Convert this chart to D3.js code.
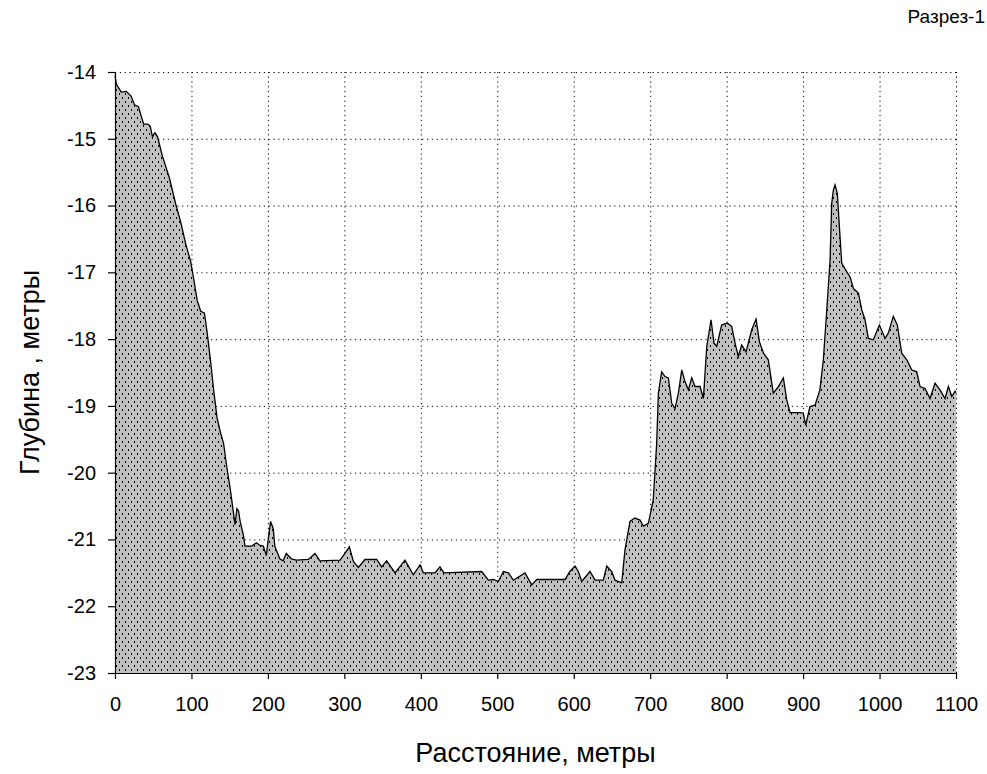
<!DOCTYPE html>
<html>
<head>
<meta charset="utf-8">
<script src="https://cdn.jsdelivr.net/npm/d3@7"></script>
<style>
  body { margin: 0; background: #fff; }
  svg text { font-family: "Liberation Sans", Arial, sans-serif; fill: #000; }
  .grid line { stroke: #000; stroke-dasharray: 1.2,3.6; }
  .grid .domain { display: none; }
  .axis path, .axis line { stroke: #000; stroke-width: 1.2; }
</style>
</head>
<body>
<svg></svg>
<script>
// profile distances, metres
var distance = [0, 1.7, 8.2, 14.7, 21, 25.5, 30.7, 34, 37.6, 42.8, 46, 49, 52, 55.7, 62, 71, 79.5, 86, 92.4, 99,
  103, 107.5, 112, 117, 120.5, 125, 129, 133.5, 138, 142, 146.4, 150.8, 154, 157, 159.4, 161.5, 163.7, 168, 170,
  179, 185, 189.6, 194, 198, 200.4, 203.5, 207, 209, 215.5, 220, 224, 230.7, 237,
  252.9, 261.6, 268, 294.3, 300.8, 306.5, 311.8, 318.3, 327, 342.3, 348.8, 355.3, 366.3, 379.3, 390.2, 399, 403.3,
  418.6, 425, 430.3, 479.6, 488.3, 494.9, 501.4, 508, 514.5, 521, 536.3, 545, 551.6, 562.5, 588.6, 595, 601.7,
  606, 610.4, 621.3, 627.9, 638.7, 643.2, 649.7, 654, 662.8, 667, 673.6, 680, 686.7, 691, 697.6, 704, 708.5,
  710.7, 715, 719.4, 723.8, 728.2, 732.5, 736.9, 741.3, 745.6, 750, 754.3, 758.7, 765.2, 769.6, 774, 779.6,
  783.5, 787, 793.5, 800.9, 806.6, 811, 815.3, 819.7, 825.4, 832.8, 838.5, 842.9, 848.2, 854.5, 861, 867.7,
  874.2, 878.6, 883, 896, 900.3, 903.4, 909, 915.6, 922, 926.5, 931, 935.3, 937.4, 939.6, 941.8, 944.8, 947.5,
  950.5, 957, 961.4, 965.8, 972.3, 976.7, 981, 985.4, 991.9, 999.8, 1007.2, 1011.5, 1018, 1023.3, 1029, 1035.6,
  1042, 1048.6, 1053, 1059.5, 1066, 1072.6, 1079, 1085.7, 1090, 1094.5, 1098.8, 1100];

// depth, metres
var depth = [-14.05, -14.18, -14.3, -14.29, -14.36, -14.49, -14.52, -14.65, -14.78, -14.78, -14.81, -14.97, -14.91, -14.97, -15.26, -15.58, -15.98, -16.25, -16.57, -16.84,
  -17.1, -17.42, -17.58, -17.61, -17.9, -18.33, -18.76, -19.18, -19.4, -19.56, -19.93, -20.25, -20.52, -20.78, -20.54, -20.57, -20.73, -20.94, -21.1,
  -21.1, -21.05, -21.09, -21.1, -21.24, -21.0, -20.73, -20.84, -21.1, -21.29, -21.32, -21.21, -21.29, -21.31,
  -21.3, -21.21, -21.32, -21.31, -21.21, -21.11, -21.33, -21.42, -21.3, -21.3, -21.41, -21.32, -21.5, -21.31, -21.53, -21.38, -21.5,
  -21.5, -21.41, -21.5, -21.48, -21.61, -21.6, -21.63, -21.48, -21.5, -21.61, -21.5, -21.68, -21.6, -21.6, -21.6, -21.48, -21.4,
  -21.48, -21.63, -21.48, -21.61, -21.61, -21.4, -21.48, -21.61, -21.65, -21.16, -20.73, -20.68, -20.71, -20.8, -20.76, -20.41, -19.56,
  -18.81, -18.49, -18.56, -18.58, -18.96, -19.04, -18.81, -18.46, -18.64, -18.76, -18.58, -18.71, -18.71, -18.89, -18.11, -17.71,
  -18.06, -18.11, -17.79, -17.76, -17.81, -18.06, -18.26, -18.09, -18.19, -17.86, -17.7, -18.04, -18.21, -18.31, -18.81, -18.71,
  -18.58, -18.91, -19.1, -19.1, -19.11, -19.29, -19.01, -18.99, -18.76, -18.31, -17.56, -16.82, -15.97, -15.77, -15.69, -15.82, -16.32,
  -16.86, -16.99, -17.07, -17.24, -17.31, -17.56, -17.71, -17.99, -18.01, -17.79, -17.99, -17.91, -17.66, -17.79, -18.21, -18.31,
  -18.46, -18.49, -18.71, -18.74, -18.89, -18.66, -18.76, -18.89, -18.71, -18.86, -18.78, -18.8];

var xTicks = [0, 100, 200, 300, 400, 500, 600, 700, 800, 900, 1000, 1100];
var yTicks = [-14, -15, -16, -17, -18, -19, -20, -21, -22, -23];

var profile = distance.map(function(d, i) { return { x: d, y: depth[i] }; });

var svgWidth = 987, svgHeight = 774;
var margin = { top: 72, right: 31, bottom: 101, left: 115 };
var width = svgWidth - margin.left - margin.right;
var height = svgHeight - margin.top - margin.bottom;

var svg = d3.select("svg")
  .attr("width", svgWidth)
  .attr("height", svgHeight);

// dotted fill pattern
var pat = svg.append("defs").append("pattern")
  .attr("id", "dots")
  .attr("patternUnits", "userSpaceOnUse")
  .attr("width", 6)
  .attr("height", 8);
pat.append("rect").attr("width", 6).attr("height", 8).attr("fill", "#c0c0c0");
pat.append("rect").attr("x", 1).attr("y", 1).attr("width", 1).attr("height", 2).attr("fill", "#000");
pat.append("rect").attr("x", 4).attr("y", 5).attr("width", 1).attr("height", 2).attr("fill", "#000");

var chart = svg.append("g")
  .attr("transform", `translate(${margin.left}, ${margin.top})`);

var x = d3.scaleLinear().domain([0, 1100]).range([0, width]);
var y = d3.scaleLinear().domain([-23, -14]).range([height, 0]);

// grid
chart.append("g")
  .attr("class", "grid")
  .call(d3.axisLeft(y).tickValues(yTicks).tickSize(-width).tickFormat(""));
chart.append("g")
  .attr("class", "grid")
  .attr("transform", "translate(0," + height + ")")
  .call(d3.axisBottom(x).tickValues(xTicks).tickSize(-height).tickFormat(""));

// area + line
var area = d3.area()
  .x(function(d) { return x(d.x); })
  .y0(y(-23))
  .y1(function(d) { return y(d.y); });

var line = d3.line()
  .x(function(d) { return x(d.x); })
  .y(function(d) { return y(d.y); });

chart.append("path")
  .datum(profile)
  .attr("fill", "url(#dots)")
  .attr("d", area);

chart.append("path")
  .datum(profile)
  .attr("fill", "none")
  .attr("stroke", "#000")
  .attr("stroke-width", 1.3)
  .attr("d", line);

// axes
var xAxis = chart.append("g")
  .attr("class", "axis")
  .attr("transform", "translate(0," + height + ")")
  .call(d3.axisBottom(x).tickValues(xTicks).tickSize(6).tickSizeOuter(0).tickPadding(18).tickFormat(d3.format("d")));
xAxis.selectAll("text").style("font-size", "20px");

var yAxis = chart.append("g")
  .attr("class", "axis")
  .call(d3.axisLeft(y).tickValues(yTicks).tickSize(7).tickSizeOuter(0).tickPadding(12).tickFormat(function(d) { return "-" + Math.abs(d); }));
yAxis.selectAll("text").style("font-size", "20px");

// labels
svg.append("text")
  .attr("x", margin.left + width / 2)
  .attr("y", 762)
  .attr("text-anchor", "middle")
  .style("font-size", "27px")
  .text("Расстояние, метры");

svg.append("text")
  .attr("transform", "translate(39," + (margin.top + height / 2) + ") rotate(-90)")
  .attr("text-anchor", "middle")
  .style("font-size", "27px")
  .text("Глубина , метры");

svg.append("text")
  .attr("x", 985)
  .attr("y", 23)
  .attr("text-anchor", "end")
  .style("font-size", "19px")
  .text("Разрез-1");
</script>
</body>
</html>
